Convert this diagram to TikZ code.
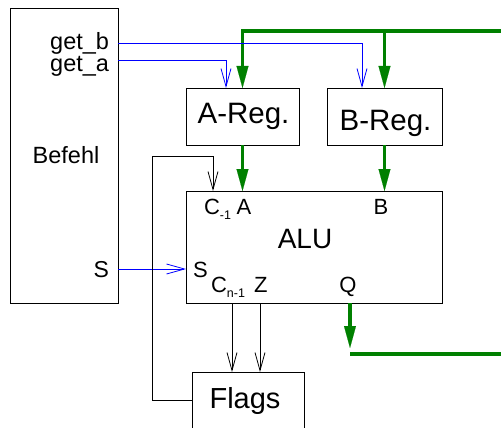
\documentclass[tikz,border=0pt]{standalone}
\usepackage{fontspec}
\setmainfont{Liberation Sans}
\usetikzlibrary{arrows.meta,calc}
\definecolor{bus}{RGB}{0,128,0}
\definecolor{ctl}{RGB}{0,0,255}
\newcommand\fsz[1]{\fontsize{#1}{#1}\selectfont}
\newcommand\lowsub[1]{\raisebox{-5pt}{\fsz{12.5}#1}}
\begin{document}
\begin{tikzpicture}[x=1pt,y=-1pt,
  box/.style={draw=black, line width=0.9pt, anchor=north west, inner sep=0pt, outer sep=0pt},
  lbl/.style={inner sep=0pt, outer sep=0pt},
  buswire/.style={draw=bus, line width=3.3pt},
  busarrow/.style={buswire, -{Triangle[length=22pt,width=12pt,line width=0.1pt]}},
  ctlarrow/.style={draw=ctl, line width=0.8pt, -{Straight Barb[length=18pt,width=10pt]}},
  blkarrow/.style={draw=black, line width=0.8pt, -{Straight Barb[length=18pt,width=10pt]}},
]
\useasboundingbox (0,0) rectangle (501,428);
\clip (0,0) rectangle (501,428);

% boxes
\node[box, minimum width=108pt, minimum height=295pt] (befehl) at (10,8) {};
\node[box, minimum width=113pt, minimum height=57pt] (areg) at (186,88) {};
\node[box, minimum width=115pt, minimum height=57pt] (breg) at (327,88) {};
\node[box, minimum width=256pt, minimum height=112pt] (alu) at (186,191) {};
\node[box, minimum width=112pt, minimum height=80pt] (flags) at (192,372) {};

% labels
\node[lbl, anchor=base east, font=\fsz{23.5}] (getb) at (109,50) {get\_b};
\node[lbl, anchor=base east, font=\fsz{23.5}] (geta) at (109,72) {get\_a};
\node[lbl, anchor=base, font=\fsz{23.5}] (befehltxt) at (66,163) {Befehl};
\node[lbl, anchor=base east, font=\fsz{23}] (sout) at (109,277) {S};
\node[lbl, anchor=base, font=\fsz{29.5}] (aregtxt) at (243.5,124) {A-Reg.};
\node[lbl, anchor=base, font=\fsz{29.5}] (bregtxt) at (385.5,130) {B-Reg.};
\node[lbl, anchor=base, font=\fsz{28}] (alutxt) at (305,248) {ALU};
\node[lbl, anchor=base west, font=\fsz{22}] (cm1) at (204,214) {C\lowsub{-1}};
\node[lbl, anchor=base, font=\fsz{22}] (ain) at (244,214) {A};
\node[lbl, anchor=base, font=\fsz{22}] (bin) at (381,214) {B};
\node[lbl, anchor=base west, font=\fsz{22}] (sin) at (193,277) {S};
\node[lbl, anchor=base west, font=\fsz{22}] (cn1) at (211,292) {C\lowsub{n-1}};
\node[lbl, anchor=base west, font=\fsz{22}] (zout) at (254,292) {Z};
\node[lbl, anchor=base, font=\fsz{22}] (qout) at (348,292) {Q};
\node[lbl, anchor=base, font=\fsz{29}] (flagstxt) at (245,408) {Flags};

% helper coordinates
\coordinate (busend) at (505,31);
\coordinate (getbpt) at (0,43);
\coordinate (getapt) at (0,60);
\coordinate (spt) at (0,269);
\coordinate (flpt) at (0,400);
\coordinate (loopA) at (152,156);
\coordinate (cinx) at (213,0);
\coordinate (cx1) at (232,0);
\coordinate (cx2) at (260,0);
\coordinate (qtip) at (350,348);
\coordinate (qbus) at (350,354);
\coordinate (qend) at (505,354);

% green data paths
\draw[busarrow] (busend) -| (areg.north);
\draw[busarrow] (breg.north |- busend) -- (breg.north);
\draw[busarrow] (areg.south) -- (areg.south |- alu.north);
\draw[busarrow] (breg.south) -- (breg.south |- alu.north);
\draw[busarrow] (qtip |- alu.south) -- (qtip);
\draw[buswire] (qbus) -- (qend);

% blue control lines
\draw[ctlarrow] (befehl.east |- getbpt) -| ($(breg.north)+(-22.5,0)$);
\draw[ctlarrow] (befehl.east |- getapt) -| ($(areg.north)+(-16.5,0)$);
\draw[ctlarrow] (befehl.east |- spt) -- (alu.west |- spt);

% black flag lines
\draw[blkarrow] (flags.west |- flpt) -| (loopA) -| (alu.north -| cinx);
\draw[blkarrow] (alu.south -| cx1) -- (flags.north -| cx1);
\draw[blkarrow] (alu.south -| cx2) -- (flags.north -| cx2);
\end{tikzpicture}
\end{document}
